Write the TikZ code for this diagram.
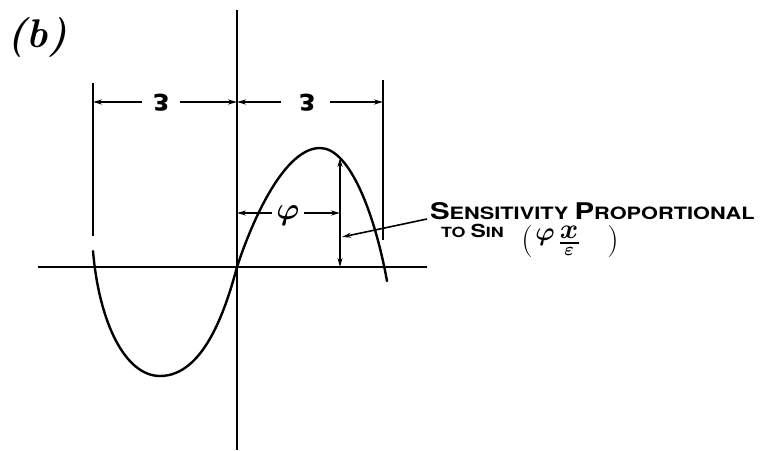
\documentclass[tikz,border=0pt]{standalone}
\usepackage{fontspec}
\usepackage{amsmath}
\newfontfamily\hand{TeX Gyre Heros}
\newfontfamily\dvs{DejaVu Sans}
\usetikzlibrary{arrows.meta}
\tikzset{
  axisline/.style={line width=1.8pt},
  curveline/.style={line width=2.4pt, line cap=round},
  dimline/.style={line width=1.6pt},
  dimarrow/.style={line width=1.6pt, -{Stealth[length=9pt,width=5pt]}},
  lbl/.style={inner sep=0pt, outer sep=0pt},
  epslbl/.style={lbl, rotate=180, font=\dvs\bfseries\fontsize{30}{30}\selectfont},
  parlbl/.style={lbl, font=\fontsize{32}{32}\selectfont},
}
\newcommand{\bigS}[1]{{\fontsize{23}{23}\selectfont #1}}
\newcommand{\midS}[1]{{\fontsize{18}{18}\selectfont #1}}
\begin{document}
\begin{tikzpicture}[x=1pt,y=-1pt]
\useasboundingbox (0,0) rectangle (770,450);
% axes
\coordinate (vt) at (237,10);
\coordinate (vb) at (237,450);
\coordinate (hl) at (38,267);
\coordinate (hr) at (427,267);
\draw[axisline] (vt) -- (vb);
\draw[axisline] (hl) -- (hr);
% curve
\coordinate (c0) at (93,251);
\coordinate (cmin) at (160,376);
\coordinate (corg) at (237,267);
\coordinate (cmax) at (320,148);
\coordinate (cend) at (387,281);
\draw[curveline] (c0) .. controls (99,322) and (125,376) .. (cmin)
  .. controls (203,376) and (225,312) .. (corg)
  .. controls (253,218) and (285,148) .. (cmax)
  .. controls (350,148) and (375,215) .. (cend);
% extension lines
\coordinate (el1) at (93,83);
\coordinate (el2) at (93,236);
\coordinate (er1) at (383,80);
\coordinate (er2) at (383,240);
\draw[dimline] (el1) -- (el2);
\draw[dimline] (er1) -- (er2);
% epsilon dimensions
\coordinate (dl) at (93,102);
\coordinate (dm) at (237,102);
\coordinate (dr) at (383,102);
\node[epslbl] (eps1) at (161,103) {ε};
\node[epslbl] (eps2) at (307,103) {ε};
\coordinate (a1) at (142,102);
\coordinate (a2) at (180,102);
\coordinate (a3) at (281,102);
\coordinate (a4) at (330,102);
\draw[dimarrow] (a1) -- (dl);
\draw[dimarrow] (a2) -- (dm);
\draw[dimarrow] (a3) -- (dm);
\draw[dimarrow] (a4) -- (dr);
% phi dimension
\node[lbl] (phi) at (288,216) {\scalebox{3.1}{$\boldsymbol{\varphi}$}};
\coordinate (p0) at (237,213);
\coordinate (p1) at (340,213);
\coordinate (b1) at (272,213);
\coordinate (b2) at (304,213);
\draw[dimarrow] (b1) -- (p0);
\draw[dimarrow] (b2) -- (p1);
% vertical sensitivity line
\coordinate (vtop) at (340,158);
\coordinate (vbot) at (340,267);
\draw[dimline, {Stealth[length=9pt,width=5pt]}-{Stealth[length=9pt,width=5pt]}] (vtop) -- (vbot);
% label
\node[lbl, anchor=base west] (txt1) at (430,219) {\hand\bfseries\scalebox{1.28}[1]{\fontsize{17}{17}\selectfont \bigS{S}ENSITIVITY \bigS{P}ROPORTIONAL}};
\node[lbl, anchor=base west] (txt2) at (441,237) {\hand\bfseries\scalebox{1.28}[1]{\fontsize{14}{14}\selectfont TO \midS{S}IN}};
% formula
\node[parlbl] (lp) at (527,242) {(};
\node[lbl] (phiF) at (545,237) {\scalebox{2.6}{$\boldsymbol{\varphi}$}};
\node[lbl] (xnum) at (569,232) {\scalebox{2.8}{$\boldsymbol{x}$}};
\coordinate (fb1) at (560,243);
\coordinate (fb2) at (579,243);
\draw[line width=1.4pt] (fb1) -- (fb2);
\node[lbl] (eden) at (569,251) {\scalebox{1.8}{$\boldsymbol{\varepsilon}$}};
\node[parlbl] (rp) at (613,242) {)};
\coordinate (lead) at (427,219);
\coordinate (leadend) at (342,237);
\draw[dimarrow] (lead) -- (leadend);
% panel label
\node[lbl, anchor=west, font=\fontsize{40}{40}\selectfont\bfseries\itshape] (plbl) at (8,37) {(b)};
\end{tikzpicture}
\end{document}
